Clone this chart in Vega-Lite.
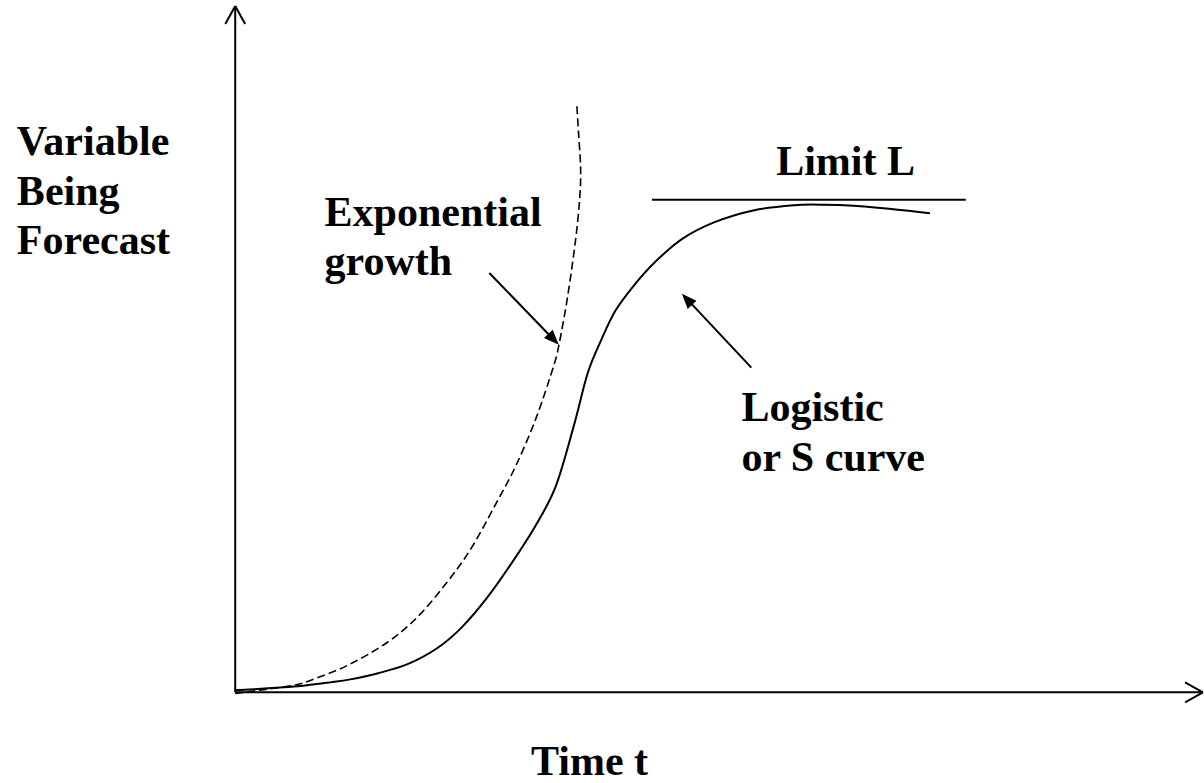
{
  "$schema": "https://vega.github.io/schema/vega-lite/v6.json",
  "width": 1204,
  "height": 783,
  "autosize": {"type": "fit", "contains": "padding"},
  "padding": 0,
  "background": "white",
  "config": {"view": {"stroke": null}},
  "datasets": {
    "logistic": [
      {"i": 0, "x": 0, "y": 2}, {"i": 1, "x": 33, "y": 4}, {"i": 2, "x": 63, "y": 6}, {"i": 3, "x": 96, "y": 10},
      {"i": 4, "x": 116, "y": 13}, {"i": 5, "x": 143, "y": 19}, {"i": 6, "x": 173, "y": 28}, {"i": 7, "x": 203, "y": 44},
      {"i": 8, "x": 228, "y": 65}, {"i": 9, "x": 253, "y": 94}, {"i": 10, "x": 278, "y": 129}, {"i": 11, "x": 303, "y": 168},
      {"i": 12, "x": 323, "y": 207}, {"i": 13, "x": 341, "y": 267}, {"i": 14, "x": 355, "y": 320}, {"i": 15, "x": 368, "y": 352},
      {"i": 16, "x": 383, "y": 383}, {"i": 17, "x": 403, "y": 410}, {"i": 18, "x": 423, "y": 432}, {"i": 19, "x": 450, "y": 455},
      {"i": 20, "x": 483, "y": 472}, {"i": 21, "x": 523, "y": 484}, {"i": 22, "x": 563, "y": 489}, {"i": 23, "x": 593, "y": 489.5},
      {"i": 24, "x": 623, "y": 488.5}, {"i": 25, "x": 663, "y": 485}, {"i": 26, "x": 700, "y": 481}
    ],
    "exponential": [
      {"i": 0, "x": 0, "y": -1}, {"i": 1, "x": 16, "y": 1}, {"i": 2, "x": 31, "y": 3}, {"i": 3, "x": 58, "y": 7},
      {"i": 4, "x": 73, "y": 11}, {"i": 5, "x": 113, "y": 27}, {"i": 6, "x": 153, "y": 50}, {"i": 7, "x": 183, "y": 75},
      {"i": 8, "x": 213, "y": 110}, {"i": 9, "x": 238, "y": 145}, {"i": 10, "x": 263, "y": 190}, {"i": 11, "x": 283, "y": 228},
      {"i": 12, "x": 303, "y": 275}, {"i": 13, "x": 320, "y": 325}, {"i": 14, "x": 326, "y": 348}, {"i": 15, "x": 335, "y": 398},
      {"i": 16, "x": 343, "y": 455}, {"i": 17, "x": 347, "y": 495}, {"i": 18, "x": 348, "y": 525}, {"i": 19, "x": 346, "y": 560},
      {"i": 20, "x": 344, "y": 592}
    ],
    "segments": [
      {"x": 0, "y": 0, "x2": 0, "y2": 689},
      {"x": 0, "y": 689, "x2": -10, "y2": 671},
      {"x": 0, "y": 689, "x2": 10, "y2": 671},
      {"x": 0, "y": 0, "x2": 975, "y2": 0},
      {"x": 975, "y": 0, "x2": 957, "y2": 10},
      {"x": 975, "y": 0, "x2": 957, "y2": -10},
      {"x": 420, "y": 494.5, "x2": 736, "y2": 494.5},
      {"x": 256, "y": 421, "x2": 321, "y2": 354},
      {"x": 520, "y": 326, "x2": 455, "y2": 395}
    ],
    "heads": [
      {"x": 326, "y": 349, "angle": 136},
      {"x": 450, "y": 400, "angle": 317}
    ],
    "labels": [
      {"text": "Variable", "x": -220, "y": 539},
      {"text": "Being", "x": -220, "y": 489},
      {"text": "Forecast", "x": -220, "y": 440},
      {"text": "Exponential", "x": 90, "y": 468},
      {"text": "growth", "x": 90, "y": 419},
      {"text": "Limit L", "x": 545, "y": 519},
      {"text": "Logistic", "x": 510, "y": 272},
      {"text": "or S curve", "x": 510, "y": 222},
      {"text": "Time t", "x": 298, "y": -83}
    ]
  },
  "layer": [
    {
      "data": {"name": "segments"},
      "mark": {"type": "rule", "color": "black", "strokeWidth": 2},
      "encoding": {
        "x": {"field": "x", "type": "quantitative", "scale": {"domain": [-237, 967], "nice": false, "zero": false}, "axis": null},
        "y": {"field": "y", "type": "quantitative", "scale": {"domain": [-88, 695], "nice": false, "zero": false}, "axis": null},
        "x2": {"field": "x2"},
        "y2": {"field": "y2"}
      }
    },
    {
      "data": {"name": "logistic"},
      "mark": {"type": "line", "color": "black", "strokeWidth": 2, "interpolate": "cardinal"},
      "encoding": {
        "x": {"field": "x", "type": "quantitative"},
        "y": {"field": "y", "type": "quantitative"},
        "order": {"field": "i", "type": "quantitative"}
      }
    },
    {
      "data": {"name": "exponential"},
      "mark": {"type": "line", "color": "black", "strokeWidth": 1.6, "strokeDash": [8, 4], "interpolate": "cardinal"},
      "encoding": {
        "x": {"field": "x", "type": "quantitative"},
        "y": {"field": "y", "type": "quantitative"},
        "order": {"field": "i", "type": "quantitative"}
      }
    },
    {
      "data": {"name": "heads"},
      "mark": {"type": "point", "shape": "M0,0 L-0.4,1 L0.4,1 Z", "filled": true, "color": "black", "opacity": 1, "size": 900},
      "encoding": {
        "x": {"field": "x", "type": "quantitative"},
        "y": {"field": "y", "type": "quantitative"},
        "angle": {"field": "angle", "type": "quantitative", "scale": null}
      }
    },
    {
      "data": {"name": "labels"},
      "mark": {"type": "text", "font": "Liberation Serif", "fontWeight": "bold", "fontSize": 42, "align": "left", "baseline": "alphabetic", "color": "black"},
      "encoding": {
        "x": {"field": "x", "type": "quantitative"},
        "y": {"field": "y", "type": "quantitative"},
        "text": {"field": "text"}
      }
    }
  ]
}
